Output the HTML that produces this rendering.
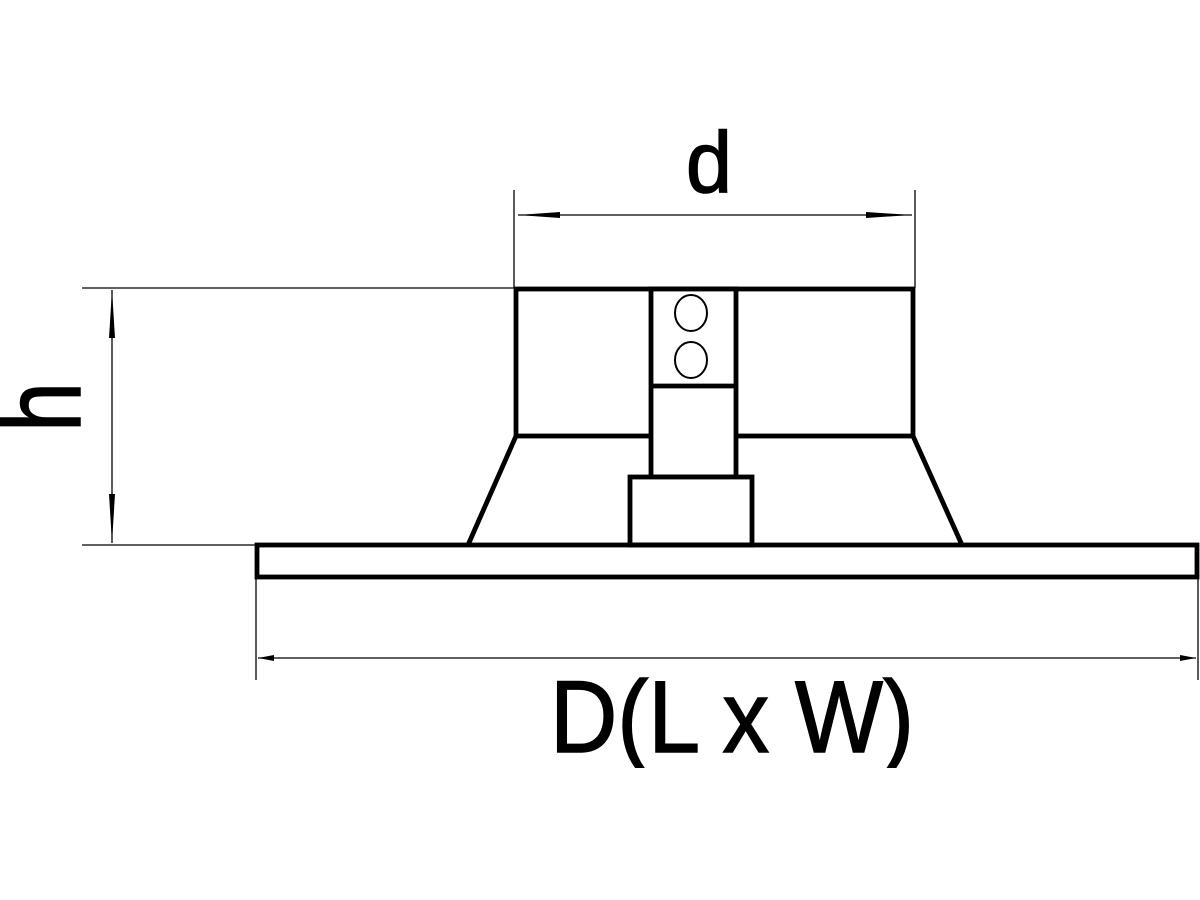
<!DOCTYPE html>
<html><head><meta charset="utf-8"><style>html,body{margin:0;padding:0;background:#fff}svg{display:block}</style></head>
<body>
<svg width="1200" height="900" viewBox="0 0 1200 900" xmlns="http://www.w3.org/2000/svg">
<defs>
<clipPath id="cl"><rect x="0" y="0" width="1200" height="768"/></clipPath>
</defs>
<g fill="none" stroke="#000">
  <g stroke-width="1.3">
    <line x1="514" y1="190" x2="514" y2="288"/>
    <line x1="915" y1="190" x2="915" y2="288"/>
    <line x1="518" y1="215" x2="912" y2="215"/>
    <line x1="82" y1="288" x2="514" y2="288"/>
    <line x1="82" y1="545" x2="256" y2="545"/>
    <line x1="112" y1="290" x2="112" y2="543"/>
    <line x1="256" y1="578" x2="256" y2="680"/>
    <line x1="1198" y1="578" x2="1198" y2="680"/>
    <line x1="258" y1="658" x2="1196" y2="658"/>
  </g>
  <g stroke-width="4.8">
    <rect x="516" y="289" width="397" height="147"/>
    <line x1="516" y1="436" x2="468" y2="545"/>
    <line x1="913" y1="436" x2="962" y2="545"/>
    <rect x="651" y="289" width="85" height="188" fill="#fff"/>
    <line x1="651" y1="386" x2="736" y2="386"/>
    <rect x="630" y="477" width="122" height="68" fill="#fff"/>
    <rect x="257" y="545" width="940" height="32"/>
  </g>
  <ellipse cx="691" cy="313" rx="16" ry="18" stroke-width="2"/>
  <ellipse cx="691" cy="360" rx="16" ry="18" stroke-width="2"/>
</g>
<g fill="#000">
  <polygon points="518,215 560,212 560,218"/>
  <polygon points="912,215 866,212 866,218"/>
  <polygon points="112,290 109,338 115,338"/>
  <polygon points="112,543 109,494 115,494"/>
  <polygon points="258,658 274,655 274,661"/>
  <polygon points="1196,658 1180,655 1180,661"/>
</g>
<g font-family="Liberation Sans, Arial, sans-serif" fill="#000" stroke="#000" stroke-width="1.5">
  <text x="686" y="192" font-size="86" textLength="46" lengthAdjust="spacingAndGlyphs">d</text>
  <text transform="translate(80,432) rotate(-90)" x="0" y="0" font-size="110" textLength="50" lengthAdjust="spacingAndGlyphs">h</text>
  <g clip-path="url(#cl)">
    <text x="550" y="752" font-size="102" textLength="364" lengthAdjust="spacingAndGlyphs">D(L x W)</text>
  </g>
</g>
</svg>
</body></html>
